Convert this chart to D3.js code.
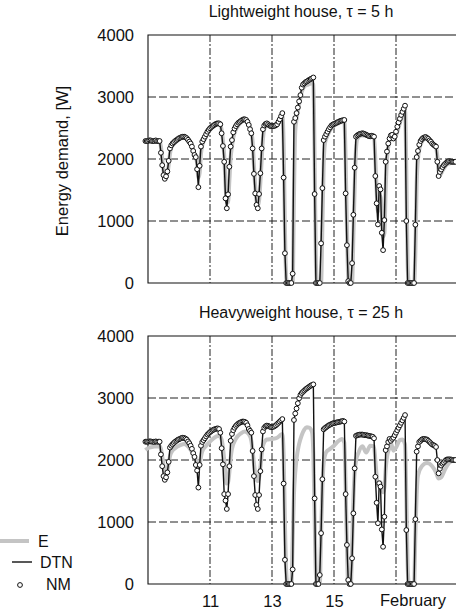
<!DOCTYPE html>
<html>
<head>
<meta charset="utf-8">
<script src="https://cdn.jsdelivr.net/npm/d3@7"></script>
<style>
  body { margin: 0; background: #fff; }
  svg { display: block; }
  text { font-family: "Liberation Sans", Arial, Helvetica, sans-serif; fill: #111; }
</style>
</head>
<body>
<svg id="chart" width="456" height="610"></svg>
<script>
// Hourly energy demand, 9–19 February. Hour 0 = 9 Feb 00:00; series start at hour -2.
const firstHour = -2;

// Lightweight house (tau = 5 h): NM hourly values [W]
const nmLight = [
  2290, 2290,
  2290, 2300, 2300, 2290, 2290, 2290, 2300, 2290, 2290, 2290, 2100, 1900,
  1740, 1680, 1720, 1800, 1970, 2170, 2220, 2250, 2270, 2290, 2305, 2320,
  2335, 2345, 2355, 2360, 2360, 2350, 2335, 2310, 2280, 2250, 2200, 2130,
  2065, 2030, 1835, 1545, 1890, 2200, 2280, 2320, 2360, 2400, 2440, 2470,
  2495, 2515, 2530, 2545, 2560, 2570, 2575, 2575, 2560, 2415, 2210, 1955,
  1365, 1205, 1430, 1875, 2200, 2305, 2430, 2490, 2530, 2560, 2585, 2600,
  2615, 2630, 2640, 2640, 2630, 2600, 2550, 2480, 2415, 2170, 1760, 1445,
  1260, 1205, 1435, 1770, 2170, 2480, 2540, 2565, 2575, 2560, 2540, 2530,
  2530, 2530, 2535, 2545, 2560, 2600, 2640, 2690, 2740, 1700, 480, 0,
  0, 0, 0, 0, 150, 2600, 2660, 2740, 2830, 2930, 3030, 3150,
  3200, 3220, 3240, 3250, 3265, 3280, 3290, 3300, 3315, 1435, 0, 0,
  0, 0, 640, 1530, 2305, 2360, 2400, 2440, 2480, 2510, 2540, 2555,
  2565, 2575, 2585, 2595, 2605, 2615, 2620, 2625, 2630, 1445, 610, 30,
  0, 0, 320, 1100, 1860, 2360, 2380, 2395, 2405, 2410, 2415, 2410,
  2400, 2390, 2380, 2370, 2365, 2375, 2370, 2360, 1725, 1285, 945, 1565,
  1510, 810, 530, 1015, 1955, 2120, 2250, 2330, 2380, 2390, 2330, 2360,
  2440, 2520, 2590, 2650, 2710, 2760, 2810, 2860, 1000, 0, 0, 0,
  0, 0, 0, 940, 2030, 2130, 2230, 2290, 2320, 2340, 2350, 2355,
  2340, 2325, 2300, 2280, 2250, 2230, 2215, 2200, 1955, 1725, 1790, 1830,
  1870, 1900, 1920, 1940, 1955, 1965, 1960, 1955, 1955, 1955, 1955
];
// DTN model runs through the NM points to plotting accuracy
const dtnLight = nmLight.slice();

// Lightweight house: E curve, [hour, W]
const eLight = [
  [-2,2290],[9,2290],[10,2200],[11,2000],[12,1820],[13,1710],[14,1700],[15,1760],[16,1900],[17,2080],
  [18,2180],[20,2240],[23,2300],[26,2340],[28,2350],[30,2325],[33,2240],[36,2070],[37,2030],[38,1930],
  [39,1700],[40,1780],[41,2080],[42,2220],[44,2320],[47,2440],[50,2510],[54,2560],[56,2550],[57,2470],
  [58,2300],[59,2060],[60,1600],[61,1300],[62,1300],[63,1650],[64,2020],[65,2200],[66,2340],[68,2470],
  [71,2570],[74,2625],[76,2615],[78,2560],[80,2440],[81,2280],[82,1900],[83,1560],[84,1330],[85,1250],
  [86,1330],[87,1620],[88,1980],[89,2320],[90,2480],[92,2550],[95,2520],[98,2520],[100,2550],[102,2620],
  [104,2700],[105,2250],[106,900],[107,80],[108,0],[112,0],[113,1400],[114,2450],[115,2640],[117,2880],
  [119,3080],[121,3170],[124,3200],[127,3220],[128,3200],[129,2000],[130,300],[131,0],[134,0],[135,900],
  [136,1900],[137,2250],[139,2380],[142,2500],[146,2560],[150,2600],[152,2610],[153,2000],[154,900],[155,100],
  [156,0],[158,0],[159,750],[160,1550],[161,2150],[162,2320],[165,2380],[170,2380],[175,2350],[176,2000],
  [177,1500],[178,1150],[179,1250],[180,1400],[181,1100],[182,750],[183,800],[184,1500],[185,2000],[186,2200],
  [188,2330],[190,2320],[192,2380],[195,2580],[199,2800],[200,1800],[201,300],[202,0],[206,0],[207,500],
  [208,1600],[209,2000],[211,2230],[215,2330],[219,2270],[223,2180],[224,2050],[225,1800],[226,1740],[228,1810],
  [232,1920],[238,1945]
];

// Heavyweight house (tau = 25 h): NM hourly values [W]
const nmHeavy = [
  2295, 2295,
  2295, 2300, 2300, 2295, 2295, 2290, 2300, 2295, 2295, 2295, 2090, 1900,
  1740, 1680, 1720, 1800, 1970, 2200, 2230, 2255, 2275, 2295, 2310, 2325,
  2335, 2345, 2355, 2360, 2355, 2345, 2330, 2300, 2270, 2230, 2180, 2110,
  2050, 1920, 1830, 1555, 1920, 2230, 2290, 2320, 2350, 2380, 2410, 2430,
  2450, 2465, 2480, 2490, 2500, 2505, 2510, 2500, 2440, 2190, 1930, 1450,
  1345, 1210, 1450, 1900, 2310, 2420, 2480, 2520, 2550, 2570, 2590, 2600,
  2610, 2620, 2620, 2615, 2600, 2560, 2500, 2470, 2440, 2145, 1740, 1435,
  1275, 1210, 1435, 1820, 2170, 2460, 2520, 2545, 2555, 2550, 2540, 2530,
  2530, 2535, 2545, 2560, 2580, 2600, 2620, 2640, 2660, 1620, 390, 0,
  0, 0, 0, 0, 235, 2645, 2750, 2830, 2915, 2995, 3050, 3080,
  3100, 3120, 3140, 3155, 3170, 3185, 3200, 3210, 3220, 1380, 0, 0,
  0, 145, 820, 1690, 2495, 2515, 2530, 2545, 2560, 2570, 2580, 2590,
  2595, 2600, 2605, 2610, 2615, 2620, 2625, 2630, 2620, 1450, 630, 65,
  0, 0, 415, 1140, 1865, 2390, 2400, 2405, 2410, 2410, 2410, 2405,
  2400, 2400, 2395, 2390, 2385, 2380, 2375, 2350, 1730, 1310, 980, 1625,
  1570, 880, 600, 1085, 2160, 2220, 2290, 2340, 2310, 2340, 2360, 2400,
  2440, 2480, 2520, 2560, 2600, 2640, 2680, 2725, 870, 0, 0, 0,
  0, 0, 0, 1045, 2135, 2220, 2290, 2310, 2330, 2340, 2340, 2335,
  2330, 2310, 2290, 2270, 2250, 2240, 2230, 2210, 2000, 1785, 1860, 1910,
  1940, 1960, 1985, 2005, 2010, 2010, 2010, 2005, 2000, 2000, 2000
];
const dtnHeavy = nmHeavy.slice();

// Heavyweight house: E curve, [hour, W]
const eHeavy = [
  [-2,2160],[1,2200],[9,2220],[10,2180],[11,2060],[12,1920],[13,1830],[14,1800],[15,1840],[16,1940],
  [17,2060],[18,2120],[21,2190],[25,2240],[28,2260],[31,2220],[34,2130],[36,2060],[38,1960],[39,1900],
  [40,1930],[41,2050],[42,2140],[45,2230],[49,2320],[53,2380],[55,2390],[57,2330],[58,2200],[59,2000],
  [60,1760],[61,1620],[62,1640],[63,1800],[64,2030],[65,2180],[68,2340],[72,2430],[75,2460],[78,2420],
  [80,2310],[81,2150],[82,1950],[83,1780],[84,1680],[85,1660],[86,1720],[87,1880],[88,2080],[89,2230],
  [92,2330],[96,2340],[100,2360],[103,2410],[104,2420],[105,2100],[106,1000],[107,200],[108,0],[111,0],
  [112,700],[113,1450],[114,1800],[115,2020],[117,2260],[119,2400],[121,2490],[123,2530],[125,2520],[127,2450],
  [128,2100],[129,1100],[130,150],[131,0],[133,0],[134,800],[135,1550],[136,1950],[138,2130],[141,2180],
  [144,2230],[147,2300],[150,2340],[152,2280],[153,1600],[154,600],[155,0],[157,0],[158,600],[159,1350],
  [160,1800],[161,1980],[163,2120],[166,2220],[169,2120],[172,2230],[175,2220],[176,2000],[177,1750],[178,1600],
  [179,1620],[180,1640],[181,1560],[182,1480],[183,1550],[184,1850],[185,2050],[187,2200],[188,2280],[190,2150],
  [192,2200],[195,2320],[197,2330],[199,2250],[200,1400],[201,300],[202,0],[206,0],[207,800],[208,1450],
  [209,1750],[212,1900],[216,1950],[220,1900],[223,1800],[225,1700],[227,1720],[230,1850],[233,1950],[238,2020]
];

// Axis ticks
const yTicks = [0, 1000, 2000, 3000, 4000];
const yGrid = [1000, 2000, 3000];
const dayTicks = [11, 13, 15, 17];
const dayLabels = ["11", "13", "15", ""];
const monthLabel = "February";
const firstDay = 9;

const panels = [
  { title: "Lightweight house, \u03c4 = 5 h", nm: nmLight, dtn: dtnLight, e: eLight, top: 35, bottom: 283, yLabel: true },
  { title: "Heavyweight house, \u03c4 = 25 h", nm: nmHeavy, dtn: dtnHeavy, e: eHeavy, top: 336, bottom: 584, yLabel: false }
];

const svg = d3.select("#chart");
const x = d3.scaleLinear().domain([0, 240]).range([148, 458]);
const dayToHour = d => (d - firstDay) * 24;

panels.forEach((p, pi) => {
  const y = d3.scaleLinear().domain([0, 4000]).range([p.bottom, p.top]);
  const g = svg.append("g");

  // horizontal dashed grid
  g.selectAll("line.hgrid").data(yGrid).join("line")
    .attr("x1", x(0)).attr("x2", x(240))
    .attr("y1", d => y(d)).attr("y2", d => y(d))
    .attr("stroke", "#222").attr("stroke-width", 1)
    .attr("stroke-dasharray", "8,3");

  // vertical dash-dot grid at day marks
  g.selectAll("line.vgrid").data(dayTicks).join("line")
    .attr("x1", d => x(dayToHour(d))).attr("x2", d => x(dayToHour(d)))
    .attr("y1", y(4000)).attr("y2", y(0))
    .attr("stroke", "#222").attr("stroke-width", 1)
    .attr("stroke-dasharray", "7,2,2,2");

  // frame
  g.append("path")
    .attr("d", `M${x(240)},${y(4000)}H${x(0)}V${y(0)}H${x(240)}`)
    .attr("fill", "none").attr("stroke", "#111").attr("stroke-width", 1.1);

  // y axis
  const yAxis = g.append("g").attr("transform", `translate(${x(0)},0)`)
    .call(d3.axisLeft(y).tickValues(yTicks).tickSize(0).tickPadding(14).tickFormat(d3.format("d")));
  yAxis.select(".domain").remove();
  yAxis.selectAll("text").attr("font-size", 16.5).attr("font-family", "Liberation Sans, Arial, sans-serif").attr("fill", "#111");

  // title
  g.append("text").attr("x", 301).attr("y", p.top - 18)
    .attr("text-anchor", "middle").attr("font-size", 16).text(p.title);

  // E curve
  g.append("path").datum(p.e)
    .attr("d", d3.line().x(d => x(d[0])).y(d => y(d[1])).curve(d3.curveMonotoneX))
    .attr("fill", "none").attr("stroke", "#c4c4c4").attr("stroke-width", 4)
    .attr("stroke-linejoin", "round");

  // DTN line
  const dtnPts = p.dtn.map((v, i) => [firstHour + i, v]);
  g.append("path").datum(dtnPts)
    .attr("d", d3.line().x(d => x(d[0])).y(d => y(d[1])))
    .attr("fill", "none").attr("stroke", "#111").attr("stroke-width", 1.4);

  // NM markers
  const nmPts = p.nm.map((v, i) => [firstHour + i, v]);
  g.selectAll("circle.nm").data(nmPts).join("circle")
    .attr("cx", d => x(d[0])).attr("cy", d => y(d[1])).attr("r", 2.4)
    .attr("fill", "#fff").attr("stroke", "#111").attr("stroke-width", 1);

  if (p.yLabel) {
    g.append("text")
      .attr("transform", `translate(68,${(p.top + p.bottom) / 2 + 2}) rotate(-90)`)
      .attr("text-anchor", "middle").attr("font-size", 16.5).text("Energy demand, [W]");
  }

  if (pi === panels.length - 1) {
    const xAxis = g.append("g").attr("transform", `translate(0,${y(0)})`)
      .call(d3.axisBottom(x).tickValues(dayTicks.map(dayToHour)).tickSize(0).tickPadding(11)
        .tickFormat((d, i) => dayLabels[i]));
    xAxis.select(".domain").remove();
    xAxis.selectAll("text").attr("font-size", 16.5).attr("font-family", "Liberation Sans, Arial, sans-serif").attr("fill", "#111");
    g.append("text").attr("x", x(dayToHour(17.55))).attr("y", y(0) + 22)
      .attr("text-anchor", "middle").attr("font-size", 16.5).text(monthLabel);
  }
});

// legend
const legend = svg.append("g");
legend.append("line").attr("x1", 0).attr("x2", 29).attr("y1", 541).attr("y2", 541)
  .attr("stroke", "#c4c4c4").attr("stroke-width", 4);
legend.append("text").attr("x", 38).attr("y", 547).attr("font-size", 16).text("E");
legend.append("line").attr("x1", 12).attr("x2", 32).attr("y1", 562).attr("y2", 562)
  .attr("stroke", "#111").attr("stroke-width", 1.4);
legend.append("text").attr("x", 40).attr("y", 568).attr("font-size", 16).text("DTN");
legend.append("circle").attr("cx", 20).attr("cy", 585).attr("r", 2.4)
  .attr("fill", "#fff").attr("stroke", "#111").attr("stroke-width", 1);
legend.append("text").attr("x", 46).attr("y", 590).attr("font-size", 16).text("NM");
</script>
</body>
</html>
